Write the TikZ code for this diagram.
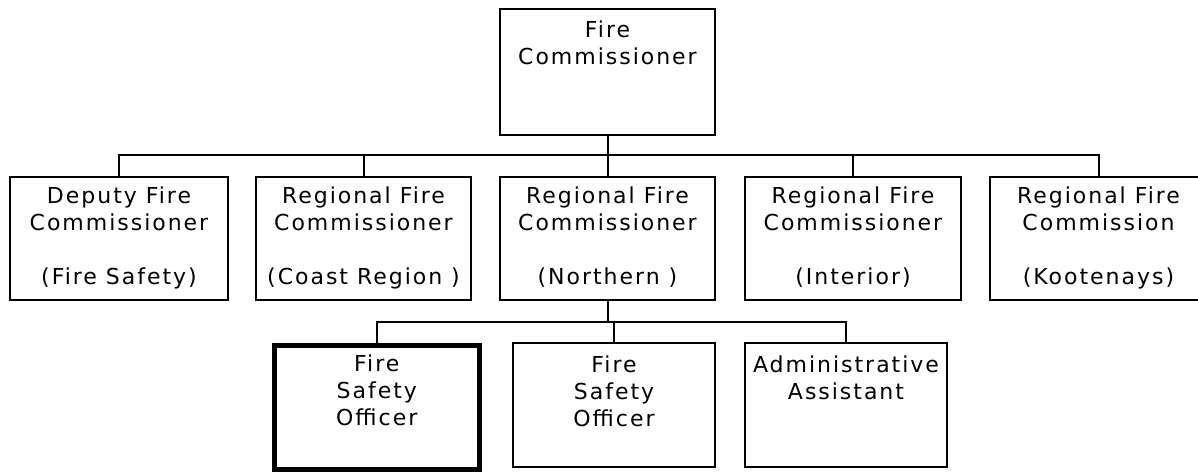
\documentclass[tikz,border=0pt]{standalone}
\usepackage{fontspec}
\newfontfamily\boxfont[LetterSpace=9]{DejaVu Sans}
\begin{document}
\begin{tikzpicture}[x=1pt,y=-1pt,
  box/.style={draw, line width=2pt, rectangle, inner sep=0pt},
  thickbox/.style={draw, line width=5pt, rectangle, inner sep=0pt},
  lbl/.style={anchor=north, align=center, inner sep=0pt, font=\boxfont\fontsize{22}{27}\selectfont},
  wire/.style={line width=2pt}]
\clip (0,0) rectangle (1198,472);
\fill[white] (0,0) rectangle (1198,472);
% top
\node[box, minimum width=215pt, minimum height=126pt] (fc) at (607.5,72) {};
% row 2
\node[box, minimum width=218pt, minimum height=123pt] (r1) at (119,238.5) {};
\node[box, minimum width=215pt, minimum height=123pt] (r2) at (363.5,238.5) {};
\node[box, minimum width=215pt, minimum height=123pt] (r3) at (607.5,238.5) {};
\node[box, minimum width=216pt, minimum height=123pt] (r4) at (853,238.5) {};
\node[box, minimum width=217pt, minimum height=123pt] (r5) at (1098.5,238.5) {};
% row 3
\node[thickbox, minimum width=205.5pt, minimum height=123.5pt] (sa) at (376.75,407.25) {};
\node[box, minimum width=202pt, minimum height=124pt] (sb) at (614,405) {};
\node[box, minimum width=202pt, minimum height=124pt] (ad) at (846,405) {};
% labels
\node[lbl] (tfc) at ([yshift=-12.5pt]fc.north) {Fire\\Commissioner};
\node[lbl] (t1) at ([yshift=-10.5pt]r1.north) {Deputy Fire\\Commissioner\\[27pt](Fire Safety)};
\node[lbl] (t2) at ([yshift=-10.5pt]r2.north) {Regional Fire\\Commissioner\\[27pt](Coast Region )};
\node[lbl] (t3) at ([yshift=-10.5pt]r3.north) {Regional Fire\\Commissioner\\[27pt](Northern )};
\node[lbl] (t4) at ([yshift=-10.5pt]r4.north) {Regional Fire\\Commissioner\\[27pt](Interior)};
\node[lbl] (t5) at ([yshift=-10.5pt]r5.north) {Regional Fire\\Commission\\[27pt](Kootenays)};
\node[lbl] (ta) at ([yshift=-11.5pt]sa.north) {Fire\\Safety\\Officer};
\node[lbl] (tb) at ([yshift=-13.5pt]sb.north) {Fire\\Safety\\Officer};
\node[lbl] (tc) at ([yshift=-13.5pt]ad.north) {Administrative\\Assistant};
% connectors
\coordinate (bus1) at (0,155);
\coordinate (bus2) at (0,322);
\draw[wire] (fc.south) -- (fc.south |- bus1);
\draw[wire] (r1.north) |- (r5.north |- bus1) -- (r5.north);
\draw[wire] (r2.north) -- (r2.north |- bus1);
\draw[wire] (r3.north) -- (r3.north |- bus1);
\draw[wire] (r4.north) -- (r4.north |- bus1);
\draw[wire] (r3.south) -- (r3.south |- bus2);
\draw[wire] (sa.north) |- (ad.north |- bus2) -- (ad.north);
\draw[wire] (sb.north) -- (sb.north |- bus2);
\end{tikzpicture}
\end{document}
